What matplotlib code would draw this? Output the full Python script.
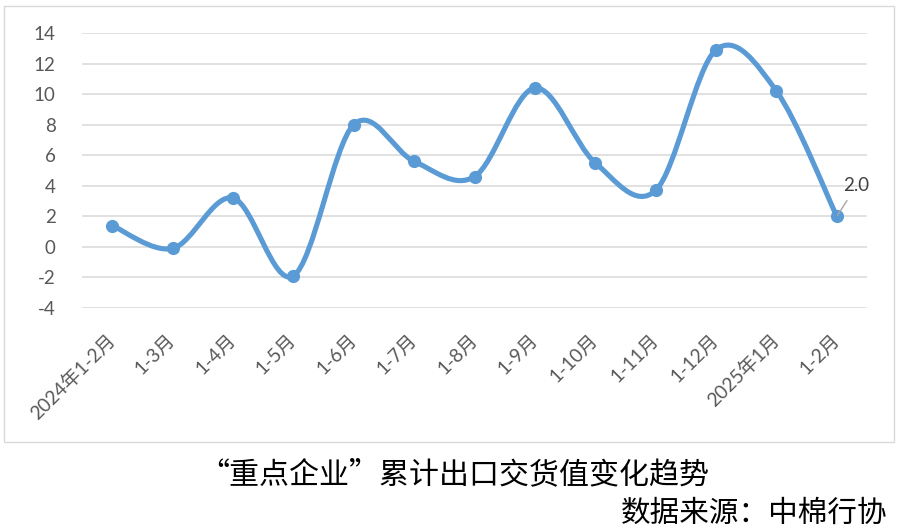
import numpy as np
import matplotlib
matplotlib.use("Agg")
import matplotlib.pyplot as plt
from matplotlib.path import Path
from matplotlib.patches import PathPatch, Rectangle

# ---- data ----
categories = ["2024年1-2月", "1-3月", "1-4月", "1-5月", "1-6月", "1-7月", "1-8月",
              "1-9月", "1-10月", "1-11月", "1-12月", "2025年1月", "1-2月"]
values = [1.4, -0.1, 3.2, -1.9, 8.0, 5.6, 4.6, 10.4, 5.5, 3.7, 12.9, 10.2, 2.0]
y_ticks = [-4, -2, 0, 2, 4, 6, 8, 10, 12, 14]
title_text = "“重点企业”累计出口交货值变化趋势"
source_text = "数据来源：中棉行协"
last_label = "2.0"

LINE_COLOR = "#5B9BD5"
GRID_COLOR = "#D9D9D9"
TICK_COLOR = "#595959"
NUM_FONT = ["Lato", "Noto Sans CJK SC", "DejaVu Sans"]
CJK_FONT = ["Noto Sans CJK SC", "DejaVu Sans"]

W, H = 897, 532
fig = plt.figure(figsize=(W / 100, H / 100), dpi=100)

# chart area border
fig.patches.append(Rectangle((4 / W, 1 - 442 / H), 890 / W, 436 / H,
                             transform=fig.transFigure, fill=False,
                             edgecolor=GRID_COLOR, linewidth=1.0, zorder=0))

ax = fig.add_axes([82 / W, 1 - 308 / H, (867 - 82) / W, (308 - 33) / H])
x = np.arange(len(values))
y = np.array(values, dtype=float)

# Excel-style smoothed line (Catmull-Rom converted to cubic Bezier)
pts = np.column_stack([x, y])
verts = [tuple(pts[0])]
codes = [Path.MOVETO]
n = len(pts)
for i in range(n - 1):
    p0 = pts[i - 1] if i > 0 else pts[i]
    p1 = pts[i]
    p2 = pts[i + 1]
    p3 = pts[i + 2] if i + 2 < n else pts[i + 1]
    c1 = p1 + (p2 - p0) / 6.0
    c2 = p2 - (p3 - p1) / 6.0
    verts += [tuple(c1), tuple(c2), tuple(p2)]
    codes += [Path.CURVE4, Path.CURVE4, Path.CURVE4]
ax.add_patch(PathPatch(Path(verts, codes), fill=False, edgecolor=LINE_COLOR,
                       linewidth=3.7, capstyle="round", joinstyle="round", zorder=3))
ax.plot(x, y, linestyle="none", marker="o", markersize=9.5, color=LINE_COLOR,
        markeredgewidth=0, zorder=4)

ax.set_xlim(-0.5, len(values) - 0.5)
ax.set_ylim(y_ticks[0], y_ticks[-1])
ax.set_yticks(y_ticks)
ax.set_yticklabels([str(t) for t in y_ticks], family=NUM_FONT, fontsize=13.5,
                   color=TICK_COLOR)
ax.set_xticks(x)
ax.set_xticklabels(categories, rotation=45, ha="right", va="center",
                   rotation_mode="anchor", family=NUM_FONT, fontsize=13.8,
                   color=TICK_COLOR)
ax.tick_params(axis="y", length=0, pad=19)
ax.tick_params(axis="x", length=0, pad=21)
for s in ax.spines.values():
    s.set_visible(False)
ax.grid(axis="y", color=GRID_COLOR, linewidth=1.1)
ax.set_axisbelow(True)
ax.patch.set_alpha(0)

# data label on the last point
ax.annotate(last_label, xy=(x[-1], y[-1]), xytext=(14, 22), textcoords="offset points",
            ha="center", va="center", fontsize=13.5, family=NUM_FONT, color="#404040",
            arrowprops=dict(arrowstyle="-", color="#A6A6A6", linewidth=1.0,
                            shrinkA=3, shrinkB=1, relpos=(0.3, 0.0)),
            zorder=5)

fig.text(454 / W, 1 - 475 / H, title_text, ha="center", va="center",
         family=CJK_FONT, fontsize=21.6, fontweight="light", color="#000000")
fig.text(887 / W, 1 - 513 / H, source_text, ha="right", va="center",
         family=CJK_FONT, fontsize=21.3, fontweight="light", color="#000000")

fig.savefig("out.png", dpi=100)
